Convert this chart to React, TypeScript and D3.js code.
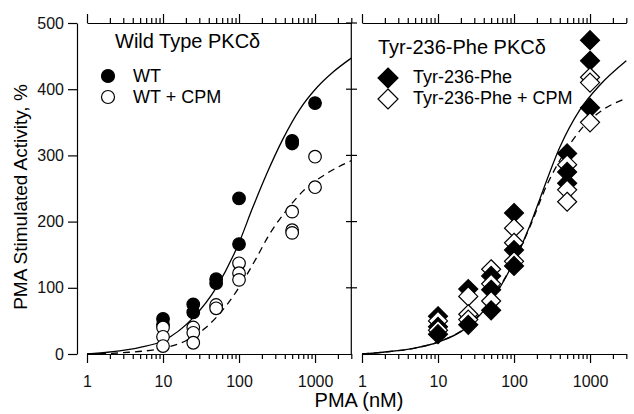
import { useEffect, useRef } from "react";
import * as d3 from "d3";

// PMA doses (nM) used for every series
const doses = [10, 25, 50, 100, 500, 1000];

// replicate values (% stimulated activity), one list per dose
const wt = [[53, 44], [75, 63], [113, 107], [235, 166], [322, 318], [379]];
const wtCpm = [[40, 26, 12], [40, 32, 17], [74, 69], [137, 122, 112], [215, 187, 183], [298, 252]];
const y236f = [[57, 41, 30], [98, 44], [118, 97, 66], [213, 157, 133], [303, 275, 258], [474, 443, 372]];
const y236fCpm = [[50, 36], [87, 60, 52], [128, 106, 80], [190, 168, 140], [286, 248, 230], [418, 410, 350]];

// fitted curves
const wtFitX = [1, 2, 5, 10, 25, 50, 100, 150, 233, 379, 633, 1066, 1730, 3000];
const wtFitY = [0, 3, 10, 20, 55, 100, 168, 220, 273, 325, 370, 403, 426, 447];
const wtCpmFitX = [1, 3, 10, 20, 35, 70, 127, 175, 240, 427, 694, 1441, 3000];
const wtCpmFitY = [0, 2, 9, 20, 38, 75, 120, 148, 177, 218, 246, 273, 292];
const yfFitX = [1, 2, 5, 10, 25, 50, 100, 163, 220, 403, 738, 1340, 3000];
const yfFitY = [0, 3, 9, 18, 42, 80, 140, 195, 235, 313, 369, 406, 443];
const yfCpmFitX = [1, 2, 5, 10, 25, 50, 100, 163, 270, 403, 810, 1480, 3000];
const yfCpmFitY = [0, 3, 9, 18, 43, 82, 140, 193, 255, 293, 343, 369, 386];

const yTicks = [0, 100, 200, 300, 400, 500];
const majorTicks = [1, 10, 100, 1000];

const FONT = "'Liberation Sans', Arial, sans-serif";

export default function App() {
  const svgRef = useRef<SVGSVGElement>(null);

  useEffect(() => {
    if (!svgRef.current) return;
    const svg = d3.select(svgRef.current);
    svg.selectAll("*").remove();

    const y = d3.scaleLinear().domain([0, 500]).range([354, 23]);
    const xLeft = d3.scaleLog().domain([1, 3000]).range([87, 351.3]);
    const xRight = d3.scaleLog().domain([1, 3000]).range([362, 626.3]);

    const g = svg.append("g").style("font-family", FONT);

    // left y axis
    const yAxis = g.append("g")
      .attr("transform", "translate(77,0)")
      .call(d3.axisLeft(y).tickValues(yTicks).tickSize(9).tickSizeOuter(0).tickPadding(4));
    yAxis.select(".domain").attr("stroke", "#000").attr("stroke-width", 1.2);
    yAxis.selectAll(".tick line").attr("stroke", "#000").attr("stroke-width", 1.2);
    yAxis.selectAll(".tick text").style("font-size", "16px").attr("fill", "#111").attr("font-family", FONT);

    // divider between panels, ticks on both sides
    g.append("line")
      .attr("x1", 351.3).attr("x2", 351.3).attr("y1", y(500)).attr("y2", y(0))
      .attr("stroke", "#000").attr("stroke-width", 1.2);
    g.selectAll(".midtick")
      .data(yTicks.filter(d => d > 0))
      .enter()
      .append("line")
      .attr("x1", 346).attr("x2", 357)
      .attr("y1", d => y(d)).attr("y2", d => y(d))
      .attr("stroke", "#000").attr("stroke-width", 1.2);

    const drawX = (x: d3.ScaleLogarithmic<number, number>) => {
      const ticks = x.ticks();
      const isMajor = (d: number) => majorTicks.includes(d);

      const bottom = g.append("g")
        .attr("transform", `translate(0,${y(0)})`)
        .call(d3.axisBottom(x).tickValues(ticks).tickSize(9).tickSizeOuter(0)
          .tickFormat(d => (isMajor(+d) ? String(d) : "")));
      bottom.select(".domain").attr("stroke", "#000").attr("stroke-width", 1.2);
      bottom.selectAll(".tick line")
        .attr("stroke", "#000").attr("stroke-width", 1.2)
        .attr("y2", (d: any) => (isMajor(d) ? 9 : 5));
      bottom.selectAll(".tick text")
        .attr("y", 33).attr("dy", 0)
        .style("font-size", "16px").attr("fill", "#111").attr("font-family", FONT);

      const top = g.append("g")
        .attr("transform", `translate(0,${y(500)})`)
        .call(d3.axisTop(x).tickValues(ticks).tickSize(9).tickSizeOuter(0).tickFormat(() => ""));
      top.select(".domain").attr("stroke", "#000").attr("stroke-width", 1.2);
      top.selectAll(".tick line")
        .attr("stroke", "#000").attr("stroke-width", 1.2)
        .attr("y2", (d: any) => (isMajor(d) ? -9 : -5));
    };
    drawX(xLeft);
    drawX(xRight);

    const drawFit = (x: d3.ScaleLogarithmic<number, number>, xs: number[], ys: number[], dashed: boolean) => {
      const line = d3.line<number>()
        .x((_, i) => x(xs[i]))
        .y(d => y(d))
        .curve(d3.curveMonotoneX);
      g.append("path")
        .attr("d", line(ys))
        .attr("fill", "none")
        .attr("stroke", "#000")
        .attr("stroke-width", 1.3)
        .attr("stroke-dasharray", dashed ? "7,5" : null);
    };
    drawFit(xLeft, wtFitX, wtFitY, false);
    drawFit(xLeft, wtCpmFitX, wtCpmFitY, true);
    drawFit(xRight, yfFitX, yfFitY, false);
    drawFit(xRight, yfCpmFitX, yfCpmFitY, true);

    const diamond = (h: number) => `M0,${-h}L${h},0L0,${h}L${-h},0Z`;

    // points: replicates at each dose drawn from top to bottom so lower ones overlap
    const drawPoints = (
      x: d3.ScaleLogarithmic<number, number>,
      filledSet: number[][],
      openSet: number[][],
      shape: "circle" | "diamond"
    ) => {
      const pts: { dose: number; value: number; filled: boolean }[] = [];
      doses.forEach((dose, i) => {
        filledSet[i].forEach(v => pts.push({ dose, value: v, filled: true }));
        openSet[i].forEach(v => pts.push({ dose, value: v, filled: false }));
      });
      pts.sort((a, b) => b.value - a.value);
      pts.forEach(p => {
        const m = shape === "circle"
          ? g.append("circle").attr("r", 6.3).attr("cx", x(p.dose)).attr("cy", y(p.value))
          : g.append("path").attr("d", diamond(9.5))
              .attr("transform", `translate(${x(p.dose)},${y(p.value)})`);
        m.attr("fill", p.filled ? "#000" : "#fff")
          .attr("stroke", "#000")
          .attr("stroke-width", 1.2);
      });
    };
    drawPoints(xLeft, wt, wtCpm, "circle");
    drawPoints(xRight, y236f, y236fCpm, "diamond");

    // panel titles
    g.append("text").attr("x", 115).attr("y", 48).style("font-size", "20px").text("Wild Type PKCδ");
    g.append("text").attr("x", 378).attr("y", 54).style("font-size", "20px").text("Tyr-236-Phe PKCδ");

    // legends
    const leftLegend = [
      { label: "WT", filled: true, cy: 76 },
      { label: "WT + CPM", filled: false, cy: 97 }
    ];
    leftLegend.forEach(d => {
      g.append("circle").attr("cx", 108).attr("cy", d.cy).attr("r", 6.5)
        .attr("fill", d.filled ? "#000" : "#fff").attr("stroke", "#000").attr("stroke-width", 1.2);
      g.append("text").attr("x", 133).attr("y", d.cy + 6).style("font-size", "18px").text(d.label);
    });
    const rightLegend = [
      { label: "Tyr-236-Phe", filled: true, cy: 78 },
      { label: "Tyr-236-Phe + CPM", filled: false, cy: 99 }
    ];
    rightLegend.forEach(d => {
      g.append("path").attr("d", diamond(10)).attr("transform", `translate(388,${d.cy})`)
        .attr("fill", d.filled ? "#000" : "#fff").attr("stroke", "#000").attr("stroke-width", 1.2);
      g.append("text").attr("x", 413).attr("y", d.cy + 5).style("font-size", "18px").text(d.label);
    });

    // axis titles
    g.append("text")
      .attr("transform", "translate(27,197) rotate(-90)")
      .attr("text-anchor", "middle")
      .style("font-size", "19px")
      .text("PMA Stimulated Activity, %");
    g.append("text")
      .attr("x", 359).attr("y", 407)
      .attr("text-anchor", "middle")
      .style("font-size", "20px")
      .text("PMA (nM)");
  }, []);

  return (
    <>
      <style>{"body{margin:0;background:#fff}"}</style>
      <svg ref={svgRef} width={634} height={414} style={{ display: "block" }} />
    </>
  );
}
